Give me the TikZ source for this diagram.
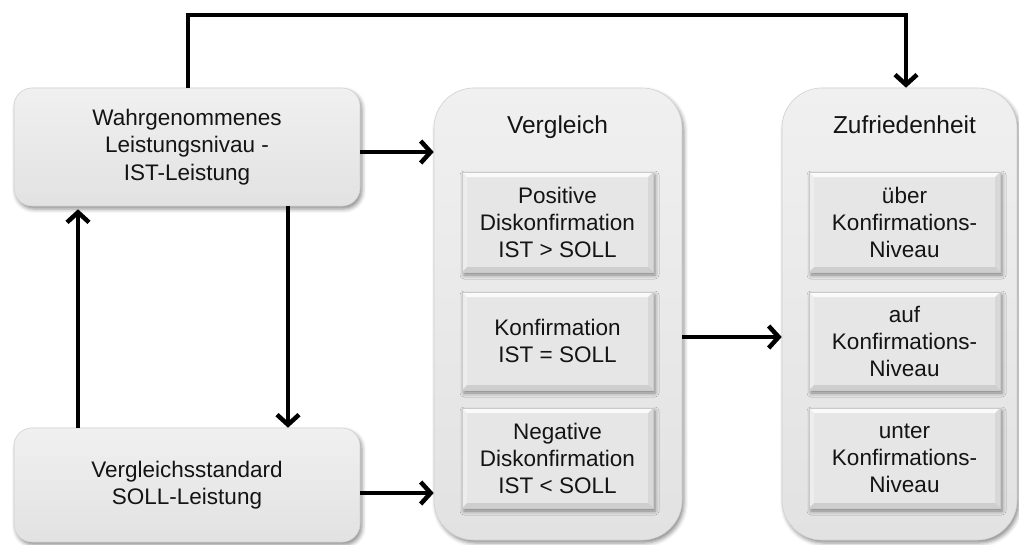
\documentclass[tikz,border=0pt]{standalone}
\usepackage{fontspec}
\setmainfont{Liberation Sans}
\usetikzlibrary{arrows.meta,shadows.blur,calc}
\definecolor{boxtop}{HTML}{F0F0F0}
\definecolor{boxbot}{HTML}{E2E2E2}
\definecolor{boxline}{HTML}{D2D2D2}
\definecolor{innerfill}{HTML}{E6E6E6}
\definecolor{innerline}{HTML}{CACACA}
\definecolor{txt}{HTML}{141414}
\tikzset{
  softshadow/.style={blur shadow={shadow xshift=2pt, shadow yshift=-3pt,
      shadow blur radius=4pt, shadow opacity=45}},
  basebox/.style={softshadow, draw=boxline, line width=0.6pt,
      top color=boxtop, bottom color=boxbot, text=txt, align=center,
      inner sep=0pt, font=\fontsize{22.5}{27.5}\selectfont},
  sidebox/.style={basebox, rounded corners=18pt, minimum width=346pt},
  groupbox/.style={basebox, rounded corners=40pt},
  grouptitle/.style={text=txt, inner sep=0pt, anchor=base,
      font=\fontsize{24.5}{29}\selectfont},
  bevelbox/.style={softshadow, draw=innerline, line width=0.5pt,
      fill=innerfill, text=txt, align=center, inner sep=0pt,
      minimum width=191pt, font=\fontsize{22.5}{27}\selectfont,
      path picture={
        \coordinate (nw) at (path picture bounding box.north west);
        \coordinate (ne) at (path picture bounding box.north east);
        \coordinate (sw) at (path picture bounding box.south west);
        \coordinate (se) at (path picture bounding box.south east);
        \fill[white, opacity=0.8] (nw) -- (ne) -- ([xshift=-5pt,yshift=-5pt]ne)
            -- ([xshift=5pt,yshift=-5pt]nw) -- cycle;
        \fill[white, opacity=0.3] (nw) -- ([xshift=5pt,yshift=-5pt]nw)
            -- ([xshift=5pt,yshift=5pt]sw) -- (sw) -- cycle;
        \fill[black, opacity=0.06] (ne) -- (se) -- ([xshift=-5pt,yshift=5pt]se)
            -- ([xshift=-5pt,yshift=-5pt]ne) -- cycle;
        \fill[black, opacity=0.10] (sw) -- (se) -- ([xshift=-5pt,yshift=5pt]se)
            -- ([xshift=5pt,yshift=5pt]sw) -- cycle;
      }},
  flow/.style={line width=4.5pt, black,
      -{Straight Barb[length=10pt, width=22pt, line width=4.5pt]}},
}
\begin{document}
\begin{tikzpicture}[x=1pt, y=-1pt]
\useasboundingbox (0,0) rectangle (1019,544);

% left column: perceived performance and comparison standard
\node[sidebox, minimum height=118pt] (wahr) at (187,147)
  {Wahrgenommenes\\Leistungsnivau -\\IST-Leistung};
\node[sidebox, minimum height=114pt] (soll) at (187,485)
  {Vergleichsstandard\\SOLL-Leistung};

% middle column: comparison
\node[groupbox, minimum width=248pt, minimum height=452pt] (verg) at (558,314) {};
\node[grouptitle] (vergT) at (557.5,133) {Vergleich};
\node[bevelbox, minimum height=100pt] (pos) at (557.5,222)
  {Positive\\Diskonfirmation\\IST > SOLL};
\node[bevelbox, minimum height=98pt] (kon) at (557.5,341)
  {Konfirmation\\IST = SOLL};
\node[bevelbox, minimum height=100pt] (neg) at (557.5,458)
  {Negative\\Diskonfirmation\\IST < SOLL};

% right column: satisfaction
\node[groupbox, minimum width=235pt, minimum height=452pt] (zuf) at (899.5,314) {};
\node[grouptitle] (zufT) at (904.5,133) {Zufriedenheit};
\node[bevelbox, minimum height=100pt] (ueber) at (904.5,222)
  {über\\Konfirmations-\\Niveau};
\node[bevelbox, minimum height=98pt] (auf) at (904.5,341)
  {auf\\Konfirmations-\\Niveau};
\node[bevelbox, minimum height=100pt] (unter) at (904.5,458)
  {unter\\Konfirmations-\\Niveau};

% connectors
\coordinate (topL) at (188,15);
\coordinate (topR) at (906,15);
\draw[flow] ([xshift=1pt]wahr.north) -- (topL) -- (topR) -- (topR |- zuf.north);
\draw[flow] ([yshift=-5pt]wahr.east) -- ([yshift=-5pt]wahr.east -| verg.west);
\draw[flow] ([yshift=-8pt]soll.east) -- ([yshift=-8pt]soll.east -| verg.west);
\draw[flow] ([xshift=-109pt]soll.north) -- ([xshift=-109pt,yshift=-3pt]wahr.south);
\draw[flow] ([xshift=101pt]wahr.south) -- ([xshift=101pt]soll.north);
\draw[flow] ([yshift=4pt]verg.east |- kon.center) -- ([yshift=4pt]zuf.west |- kon.center);
\end{tikzpicture}
\end{document}
